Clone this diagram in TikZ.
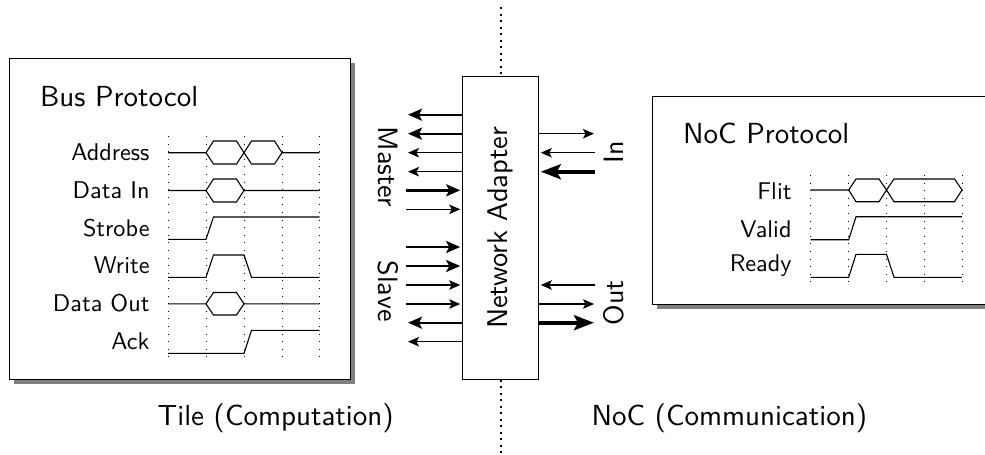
\documentclass[tikz,border=0pt]{standalone}
\usepackage{amsmath}
\usepackage{graphicx}
\usetikzlibrary{arrows.meta,shadows}

\begin{document}
\begin{tikzpicture}[x=1pt,y=-1pt,font=\sffamily,
  panel/.style={rectangle,draw,fill=white,line width=1pt,anchor=north west,drop shadow={shadow xshift=4pt,shadow yshift=-4pt,fill=black!50,opacity=1}},
  adapter/.style={rectangle,draw,fill=white,line width=1pt,minimum width=75.6pt,minimum height=302.6pt},
  title/.style={anchor=base west,inner sep=0pt,scale=2.9},
  sig name/.style={anchor=base east,inner sep=0pt,scale=2.42},
  port name/.style={inner sep=0pt,scale=2.8},
  griddot/.style={line width=1pt,dash pattern=on 1pt off 6.6pt},
  border/.style={line width=2pt,dash pattern=on 2pt off 4.5pt},
  wave/.style={line width=1.1pt},
  thin port/.style={-{Stealth[length=11pt,width=9.5pt,inset=2.5pt]},line width=1.3pt},
  thick port/.style={-{Stealth[length=14pt,width=12pt,inset=3pt]},line width=2.4pt},
  heavy port/.style={-{Stealth[length=20pt,width=15pt,inset=4pt]},line width=3.8pt}]
  \clip (0,0) rectangle (985,455);
  \path[use as bounding box] (0,0) rectangle (985,455);

  % dotted border between tile and network
  \node[adapter] (na) at (500.5,228) {\rotatebox{90}{\scalebox{2.85}{Network Adapter}}};
  \coordinate (bordertop) at (500.5,7);
  \coordinate (borderbot) at (500.5,455);
  \draw[border] (bordertop) -- (na.north);
  \draw[border] (na.south) -- (borderbot);

  % protocol panels
  \node[panel,minimum width=341pt,minimum height=321pt] (bus) at (9,58) {};
  \node[panel,minimum width=360pt,minimum height=208pt] (noc) at (652,96) {};
  \node[title] (bustitle) at (39.5,106) {Bus Protocol};
  \node[title] (noctitle) at (682.5,143) {NoC Protocol};

  % bus signals
  \node[sig name] (address) at (150,160.5) {Address};
  \node[sig name] (datain) at (150,198.3) {Data In};
  \node[sig name] (strobe) at (150,236.1) {Strobe};
  \node[sig name] (write) at (150,273.9) {Write};
  \node[sig name] (dataout) at (150,311.7) {Data Out};
  \node[sig name] (ack) at (150,349.5) {Ack};

  \draw[griddot] (168,136) -- (168,361);
  \draw[griddot] (206,136) -- (206,361);
  \draw[griddot] (244,136) -- (244,361);
  \draw[griddot] (282,136) -- (282,361);
  \draw[griddot] (319.5,136) -- (319.5,361);

  \draw[wave] (168,152.7) -- (206,152.7) -- (213.5,141) -- (236.5,141) -- (244,152.7) -- (251.5,164) -- (274.5,164) -- (282,152.7) -- (319.5,152.7);
  \draw[wave] (206,152.7) -- (213.5,164) -- (236.5,164) -- (244,152.7) -- (251.5,141) -- (274.5,141) -- (282,152.7);
  \draw[wave] (168,190.5) -- (206,190.5) -- (213.5,179) -- (236.5,179) -- (244,190.5) -- (319.5,190.5);
  \draw[wave] (206,190.5) -- (213.5,202) -- (236.5,202) -- (244,190.5);
  \draw[wave] (168,239.3) -- (206,239.3) -- (213.5,217) -- (319.5,217);
  \draw[wave] (168,277.3) -- (206,277.3) -- (213.5,255) -- (244,255) -- (251.5,277.3) -- (319.5,277.3);
  \draw[wave] (168,303.8) -- (206,303.8) -- (213.5,292.5) -- (236.5,292.5) -- (244,303.8) -- (319.5,303.8);
  \draw[wave] (206,303.8) -- (213.5,315) -- (236.5,315) -- (244,303.8);
  \draw[wave] (168,353.3) -- (244,353.3) -- (251.5,330.3) -- (319.5,330.3);

  % noc signals
  \node[sig name] (flit) at (792,199) {Flit};
  \node[sig name] (valid) at (792,237.3) {Valid};
  \node[sig name] (ready) at (792,271.7) {Ready};

  \draw[griddot] (810.7,175) -- (810.7,285);
  \draw[griddot] (848.7,175) -- (848.7,285);
  \draw[griddot] (886.5,175) -- (886.5,285);
  \draw[griddot] (924.3,175) -- (924.3,285);
  \draw[griddot] (962,175) -- (962,285);

  \draw[wave] (810.7,190) -- (848.7,190) -- (856,179) -- (879,179) -- (886.5,190) -- (894,201.7) -- (954.5,201.7) -- (962,190) -- (954.5,179) -- (894,179) -- (886.5,190) -- (879,201.7) -- (856,201.7) -- (848.7,190);
  \draw[wave] (810.7,239.7) -- (848.7,239.7) -- (856,216.7) -- (962,216.7);
  \draw[wave] (810.7,277.3) -- (848.7,277.3) -- (856,254.3) -- (886.5,254.3) -- (894,277.3) -- (962,277.3);

  % free ends of the ports
  \coordinate (m1) at (408,114.7);
  \coordinate (m2) at (408,133.7);
  \coordinate (m3) at (408,152.7);
  \coordinate (m4) at (408,171.7);
  \coordinate (m5) at (406,190.3);
  \coordinate (m6) at (406,209.3);
  \coordinate (s1) at (406,247);
  \coordinate (s2) at (406,266);
  \coordinate (s3) at (406,285);
  \coordinate (s4) at (406,304);
  \coordinate (s5) at (408,322.7);
  \coordinate (s6) at (408,341.7);
  \coordinate (i1) at (594,133.7);
  \coordinate (i2) at (595,152.7);
  \coordinate (i3) at (595,171.7);
  \coordinate (o1) at (595,285);
  \coordinate (o2) at (594,304);
  \coordinate (o3) at (594,322.7);

  \path[thick port] (na.west |- m1) edge (m1) (na.west |- m2) edge (m2);
  \path[thin port] (na.west |- m3) edge (m3) (na.west |- m4) edge (m4);
  \path[thick port,shorten >=2pt] (m5) edge (na.west |- m5);
  \path[thin port,shorten >=2pt] (m6) edge (na.west |- m6);
  \path[thick port,shorten >=2pt] (s1) edge (na.west |- s1) (s2) edge (na.west |- s2);
  \path[thin port,shorten >=2pt] (s3) edge (na.west |- s3) (s4) edge (na.west |- s4);
  \path[thick port] (na.west |- s5) edge (s5);
  \path[thin port] (na.west |- s6) edge (s6);
  \path[thin port] (na.east |- i1) edge (i1);
  \path[thin port,shorten >=2pt] (i2) edge (na.east |- i2);
  \path[heavy port,shorten >=2pt] (i3) edge (na.east |- i3);
  \path[thin port,shorten >=2pt] (o1) edge (na.east |- o1);
  \path[thin port] (na.east |- o2) edge (o2);
  \path[heavy port] (na.east |- o3) edge (o3);

  % port group labels and captions
  \node[port name,rotate=-90] (master) at (388,167) {Master};
  \node[port name,rotate=-90] (slave) at (388,291) {Slave};
  \node[port name,rotate=90] (in) at (614,152) {In};
  \node[port name,rotate=90] (out) at (614,303) {Out};
  \node[title] (tile) at (157,425) {Tile (Computation)};
  \node[title] (network) at (591,425) {NoC (Communication)};
\end{tikzpicture}
\end{document}
